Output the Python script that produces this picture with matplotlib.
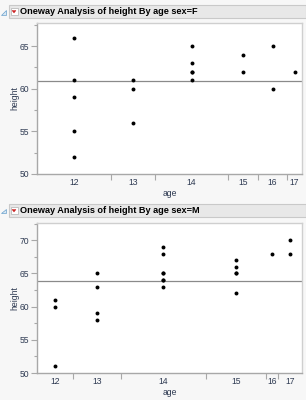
import matplotlib
matplotlib.use("Agg")
import matplotlib.pyplot as plt
from matplotlib.patches import Rectangle, Polygon
from matplotlib.ticker import FixedLocator, MultipleLocator
import numpy as np

# ---- data ----
ages = [12, 13, 14, 15, 16, 17]
f_heights = {
    12: [66, 61, 59, 55, 52],
    13: [61, 60, 56],
    14: [65, 63, 62, 62, 61],
    15: [64, 62],
    16: [65, 60],
    17: [62],
}
m_heights = {
    12: [61, 60, 51],
    13: [65, 63, 59, 58],
    14: [69, 68, 65, 65, 64, 64, 63],
    15: [67, 66, 65, 65, 62],
    16: [68],
    17: [70, 68],
}
titles = ["Oneway Analysis of height By age sex=F", "Oneway Analysis of height By age sex=M"]
f_ylim = (50, 67.7)
m_ylim = (50, 72.6)
f_yticks = [50, 55, 60, 65]
m_yticks = [50, 55, 60, 65, 70]

BG = "#f7f7f7"
LBL = "#2e3a52"
plt.rcParams["font.family"] = ["Liberation Sans", "DejaVu Sans"]

fig = plt.figure(figsize=(3.06, 4.0), dpi=100, facecolor=BG)
W, H = 306.0, 400.0


def fx(px):
    return px / W


def fy(py):
    return 1 - py / H


def header(ytop, ybot, title):
    fig.patches.append(Rectangle((fx(9), fy(ybot)), fx(306 - 9), (ybot - ytop) / H,
                                 transform=fig.transFigure, facecolor="#e8e8e8",
                                 edgecolor="#c9c9c9", linewidth=0.8))
    yc = (ytop + ybot) / 2
    # disclosure triangle
    fig.patches.append(Polygon([(fx(1), fy(yc + 3)), (fx(5.5), fy(yc + 3)), (fx(5.5), fy(yc - 1.5))],
                               closed=True, transform=fig.transFigure,
                               facecolor="#d8e8f4", edgecolor="#6aa0cc", linewidth=0.5))
    # red dropdown icon
    fig.patches.append(Rectangle((fx(10.5), fy(yc + 3.5)), 7 / W, 7 / H, transform=fig.transFigure,
                                 facecolor="white", edgecolor="#b0b0b0", linewidth=0.5))
    fig.patches.append(Polygon([(fx(12), fy(yc - 1)), (fx(16), fy(yc - 1)), (fx(14), fy(yc + 1.5))],
                               closed=True, transform=fig.transFigure,
                               facecolor="#cc2222", edgecolor="#cc2222", linewidth=0.3))
    fig.text(fx(20), fy(yc), title, fontsize=6.6, fontweight="bold", color="black",
             ha="left", va="center")


def panel(rect, data, ylim, yticks):
    ax = fig.add_axes(rect)
    ax.set_facecolor("white")
    counts = [len(data[a]) for a in ages]
    bounds = np.concatenate([[0], np.cumsum(counts)])
    centers = (bounds[:-1] + bounds[1:]) / 2
    allv = []
    for a, c in zip(ages, centers):
        vals = data[a]
        allv += vals
        ax.scatter([c] * len(vals), vals, s=8, color="black", zorder=3, linewidths=0)
    mean = np.mean(allv)
    ax.axhline(mean, color="#8a8a8a", linewidth=0.9, zorder=2)
    ax.set_xlim(0, bounds[-1])
    ax.set_ylim(*ylim)
    ax.set_yticks(yticks)
    ax.yaxis.set_minor_locator(MultipleLocator(2.5))
    ax.set_xticks(centers)
    ax.set_xticklabels([str(a) for a in ages])
    ax.xaxis.set_minor_locator(FixedLocator(bounds[1:-1]))
    ax.tick_params(axis="x", which="major", length=0, pad=3, labelsize=6.2, labelcolor=LBL)
    ax.tick_params(axis="x", which="minor", length=4, width=0.8, color="#a8a8a8")
    ax.tick_params(axis="y", which="major", length=4, width=0.8, color="#a8a8a8",
                   labelsize=6.2, labelcolor=LBL, pad=1.5)
    ax.tick_params(axis="y", which="minor", length=2, width=0.8, color="#a8a8a8")
    for side in ["top", "right"]:
        ax.spines[side].set_color("#cfcfcf")
        ax.spines[side].set_linewidth(1.0)
    for side in ["left", "bottom"]:
        ax.spines[side].set_color("#a8a8a8")
        ax.spines[side].set_linewidth(1.0)
    ax.set_xlabel("age", fontsize=6.2, color=LBL, labelpad=1.5)
    ax.set_ylabel("height", fontsize=6.2, color=LBL, labelpad=0.5)
    return ax


header(5, 18, titles[0])
panel([fx(37), fy(174), (302 - 37) / W, (174 - 23) / H], f_heights, f_ylim, f_yticks)
header(204, 217, titles[1])
panel([fx(37), fy(373), (302 - 37) / W, (373 - 223) / H], m_heights, m_ylim, m_yticks)

fig.savefig("out.png", dpi=100, facecolor=BG)
